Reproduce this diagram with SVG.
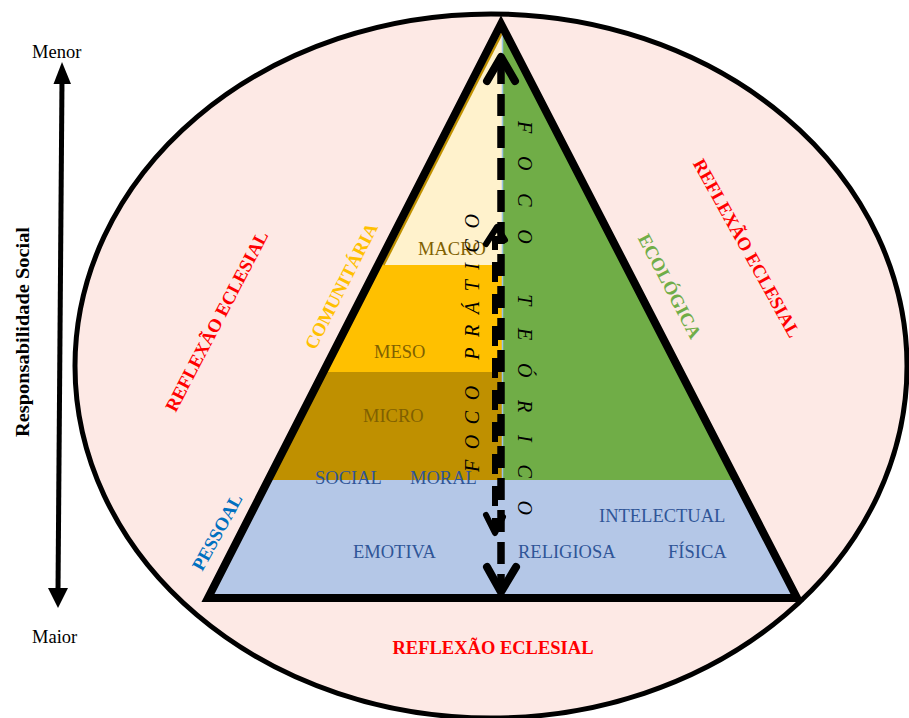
<svg xmlns="http://www.w3.org/2000/svg" width="909" height="718" viewBox="0 0 909 718">
<style>
.t{font-family:"Liberation Serif","Times New Roman",serif;font-size:18.5px}
.b{font-weight:bold}
.lvl{fill:#7F6000}
.dim{fill:#2F5597}
.red{fill:#FF0000}
.foco{font-style:italic;fill:#000;font-size:20px}
.ax{stroke:#000;stroke-width:5;fill:none}
.dash{stroke:#000;fill:none;stroke-linecap:butt}
.chev{stroke:#000;fill:none;stroke-linecap:round;stroke-linejoin:round}
</style>
<defs>
<clipPath id="tri"><polygon points="501,24 208,598 797,598"/></clipPath>
</defs>
<rect width="909" height="718" fill="#FFFFFF"/>
<g id="ellipse">
<ellipse cx="491" cy="366" rx="416" ry="352" fill="#FDE9E5" stroke="#000" stroke-width="5"/>
</g>
<g id="pyramid">
<g clip-path="url(#tri)">
<rect x="150" y="0" width="352" height="265" fill="#FFF2CC"/>
<rect x="150" y="265" width="352" height="107" fill="#FFC000"/>
<rect x="150" y="372" width="352" height="108" fill="#BF9000"/>
<rect x="502" y="0" width="350" height="480" fill="#70AD47"/>
<rect x="150" y="480" width="702" height="120" fill="#B4C7E7"/>
<line x1="505.4" y1="26.3" x2="383.5" y2="265" stroke="#BF9000" stroke-width="2.5"/>
<line x1="502.5" y1="20" x2="502.5" y2="480" stroke="#9DC3E6" stroke-width="1.5"/>
</g>
<polygon points="501,24 208,598 797,598" fill="none" stroke="#000" stroke-width="8" stroke-linejoin="miter"/>
</g>
<g id="levels">
<text class="t lvl" x="418" y="255">MACRO</text>
<text class="t lvl" x="374" y="358">MESO</text>
<text class="t lvl" x="363" y="422">MICRO</text>
</g>
<g id="dimensions">
<text class="t dim" x="315" y="484">SOCIAL</text>
<text class="t dim" x="410" y="484">MORAL</text>
<text class="t dim" x="599" y="522">INTELECTUAL</text>
<text class="t dim" x="353" y="558">EMOTIVA</text>
<text class="t dim" x="518" y="558">RELIGIOSA</text>
<text class="t dim" x="668" y="558">FÍSICA</text>
</g>
<g id="side-labels">
<text class="t b red" text-anchor="middle" dy="0.35em" transform="translate(216.5,321) rotate(-62.4)">REFLEXÃO ECLESIAL</text>
<text class="t b" fill="#FFC000" text-anchor="middle" dy="0.35em" transform="translate(341,286) rotate(-63)">COMUNITÁRIA</text>
<text class="t b" fill="#0070C0" text-anchor="middle" dy="0.35em" transform="translate(217,532) rotate(-61)">PESSOAL</text>
<text class="t b" fill="#70AD47" text-anchor="middle" dy="0.35em" transform="translate(670,286) rotate(62.4)">ECOLÓGICA</text>
<text class="t b red" text-anchor="middle" dy="0.35em" transform="translate(747,248) rotate(61)">REFLEXÃO ECLESIAL</text>
<text class="t b red" x="493" y="654" text-anchor="middle">REFLEXÃO ECLESIAL</text>
</g>
<g id="axis">
<text class="t" x="32" y="58">Menor</text>
<text class="t" x="32" y="643">Maior</text>
<text class="t b" text-anchor="middle" transform="translate(29,332) rotate(-90)" textLength="210" lengthAdjust="spacingAndGlyphs">Responsabilidade Social</text>
</g>
<g id="connectors">
<line class="ax" x1="62" y1="80" x2="58" y2="591"/>
<polygon points="62,62 53.5,84 71,84" fill="#000"/>
<polygon points="58,608 48,588 68,588" fill="#000"/>
<line class="dash" x1="495" y1="236" x2="495" y2="528" stroke-width="6" stroke-dasharray="20 12" stroke-dashoffset="6"/>
<polyline class="chev" points="486,244 497,227 505,240" stroke-width="6"/>
<polyline class="chev" points="486,515 495,533 503,517" stroke-width="6"/>
<line class="dash" x1="501" y1="62" x2="501" y2="588" stroke-width="7.5" stroke-dasharray="22 10"/>
<polyline class="chev" points="487,81 501,57 515,81" stroke-width="8"/>
<polyline class="chev" points="487,567 501,592 516,567" stroke-width="8"/>
</g>
<g id="focus-labels">
<text class="t foco" transform="translate(518,121) rotate(90)" textLength="394" lengthAdjust="spacing">FOCO TEÓRICO</text>
<text class="t foco" transform="translate(479,472) rotate(-90)" textLength="258" lengthAdjust="spacing">FOCO PRÁTICO</text>
</g>
</svg>
